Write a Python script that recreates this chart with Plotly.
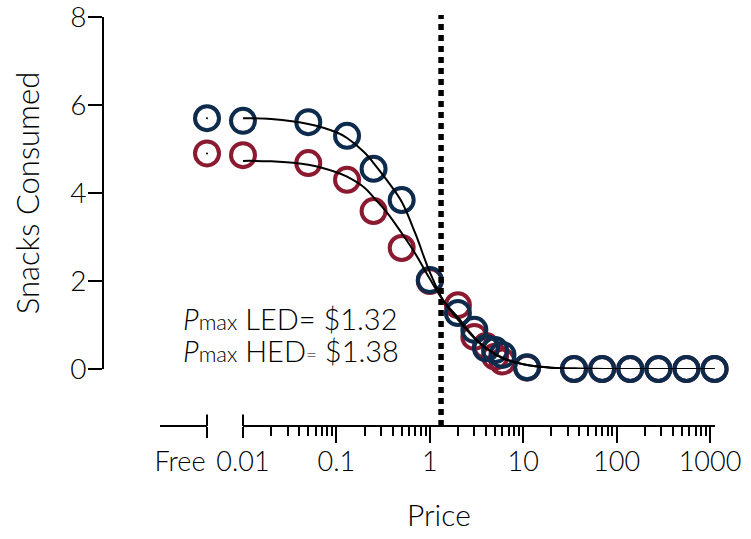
import plotly.graph_objects as go

# ---------------- data ----------------
prices = [0.01, 0.05, 0.13, 0.25, 0.5, 1, 2, 3, 4, 5, 6, 11, 35, 70, 140, 280, 560, 1120]
led_consumed = [5.64, 5.61, 5.30, 4.55, 3.84, 2.02, 1.27, 0.89, 0.47, 0.43, 0.32, 0.04, 0, 0, 0, 0, 0, 0]
hed_consumed = [4.86, 4.68, 4.30, 3.59, 2.75, 2.00, 1.45, 0.73, 0.52, 0.28, 0.17, 0.03, 0, 0, 0, 0, 0, 0]
free_label = "Free"
free_led = 5.70
free_hed = 4.90

fit_prices = [0.01, 0.02, 0.05, 0.1, 0.13, 0.2, 0.25, 0.35, 0.5, 0.7, 1, 1.4, 2, 3, 4, 6, 8, 11, 20, 35, 100, 1120]
fit_led = [5.70, 5.68, 5.57, 5.38, 5.25, 4.92, 4.68, 4.28, 3.80, 3.08, 2.20, 1.55, 1.12, 0.70, 0.47, 0.25, 0.16, 0.09, 0.03, 0.01, 0, 0]
fit_hed = [4.73, 4.72, 4.64, 4.47, 4.37, 4.12, 3.90, 3.55, 3.09, 2.62, 2.05, 1.55, 1.17, 0.72, 0.48, 0.25, 0.16, 0.09, 0.03, 0.01, 0, 0]

pmax_led = 1.32
pmax_hed = 1.38

x_tick_vals = [0.01, 0.1, 1, 10, 100, 1000]
x_tick_text = ["0.01", "0.1", "1", "10", "100", "1000"]
x_major_marks = [0.1, 1, 10, 100, 1000]
y_tick_vals = [0, 2, 4, 6, 8]

# ---------------- style ----------------
BLUE = "#0d2b4c"
RED = "#8b1a30"
FONT = "Lato"

minor_vals = [m * 10 ** e for e in range(-2, 3) for m in range(2, 10)]

fig = go.Figure()

def rings(x, y, color, xaxis):
    return go.Scatter(
        x=x, y=y, mode="markers", xaxis=xaxis, yaxis="y", cliponaxis=False,
        marker=dict(symbol="circle", size=24, color="rgba(0,0,0,0)",
                    line=dict(color=color, width=4)),
        showlegend=False, hoverinfo="skip")

fig.add_trace(rings(prices, hed_consumed, RED, "x"))
fig.add_trace(rings([0], [free_hed], RED, "x2"))
fig.add_trace(rings(prices, led_consumed, BLUE, "x"))
fig.add_trace(rings([0], [free_led], BLUE, "x2"))

for fy in (fit_led, fit_hed):
    fig.add_trace(go.Scatter(
        x=fit_prices, y=fy, mode="lines", xaxis="x", yaxis="y", cliponaxis=False,
        line=dict(color="black", width=2, shape="spline", smoothing=1),
        showlegend=False, hoverinfo="skip"))

fig.add_trace(go.Scatter(
    x=[0, 0], y=[free_led, free_hed], mode="markers", xaxis="x2", yaxis="y",
    cliponaxis=False, marker=dict(size=2, color="black"),
    showlegend=False, hoverinfo="skip"))

# plot-area edges in screen pixels (page body margin removed below)
OFF = 0
SL, SR, ST, SB = 103, 715, 17, 426
W, H = 751 - OFF, 539 - OFF
L, T = SL - OFF, ST - OFF
R = W - (SR - OFF)
B = H - (SB - OFF)
pw = SR - SL
ph = SB - ST

def px_x(p):
    return (p - SL) / pw

def px_y(p):
    return (SB - p) / ph

main_start = px_x(243)
log_lo = -2
log_hi = -2 + (SR - 243) / 93.4

axis_common = dict(showgrid=False, zeroline=False, showline=True, linecolor="black",
                   linewidth=2, ticks="outside", tickcolor="black", tickwidth=2,
                   anchor="free", position=0, automargin=False,
                   ticklabeloverflow="allow")

fig.update_layout(
    width=W, height=H,
    margin=dict(l=L, r=R, t=T, b=B, autoexpand=False),
    paper_bgcolor="white", plot_bgcolor="white",
    font=dict(family=FONT, size=26, color="black", weight=300),
    showlegend=False,
    xaxis=dict(
        type="log", domain=[main_start, 1], range=[log_lo, log_hi],
        tickmode="array", tickvals=x_tick_vals, ticktext=x_tick_text, ticklen=11,
        tickfont=dict(size=27), ticklabelstandoff=1,
        minor=dict(tickmode="array", tickvals=minor_vals, ticks="outside", ticklen=9,
                   tickwidth=2, tickcolor="black", showgrid=False),
        **axis_common),
    xaxis3=dict(
        type="log", overlaying="x", range=[log_lo, log_hi],
        tickmode="array", tickvals=x_major_marks, ticklen=16, showticklabels=False,
        showgrid=False, zeroline=False, showline=False, ticks="outside",
        tickcolor="black", tickwidth=2, anchor="free", position=0, automargin=False),
    xaxis2=dict(
        domain=[px_x(160), px_x(207)], range=[-1, 0],
        tickmode="array", tickvals=[0], ticktext=[free_label], ticklen=11,
        tickfont=dict(size=27), ticklabelstandoff=1, ticklabelshift=-27,
        **axis_common),
    yaxis=dict(
        domain=[px_y(369), 1], range=[0, 8],
        tickmode="array", tickvals=y_tick_vals, ticklen=14,
        tickfont=dict(size=28), ticklabelstandoff=-4,
        title=dict(text="Snacks Consumed", font=dict(size=31), standoff=20),
        **axis_common),
)

# invisible trace so overlay axis x3 renders
fig.add_trace(go.Scatter(x=[1], y=[None], xaxis="x3", yaxis="y", showlegend=False,
                         hoverinfo="skip"))

fig.add_shape(type="line", xref="x", x0=pmax_led, x1=pmax_led, yref="paper", y0=0, y1=1.005,
              line=dict(color="black", width=5.5, dash="6px,5px"))
for xr in ("x domain", "x2 domain"):
    xv = 0 if xr == "x domain" else 1
    fig.add_shape(type="line", xref=xr, x0=xv, x1=xv, yref="paper", ysizemode="pixel",
                  yanchor=0, y0=0, y1=11.5, line=dict(color="black", width=2))

small = "<span style='font-size:22px'>max</span>"
fig.add_annotation(xref="paper", yref="paper", x=px_x(181), y=px_y(318), xanchor="left",
                   yanchor="middle", showarrow=False, font=dict(size=29),
                   text=f"<i>P</i>{small} LED= ${pmax_led:.2f}")
fig.add_annotation(xref="paper", yref="paper", x=px_x(181), y=px_y(350), xanchor="left",
                   yanchor="middle", showarrow=False, font=dict(size=29),
                   text=f"<i>P</i>{small} HED<span style='font-size:19px'>=</span> ${pmax_hed:.2f}")
fig.add_annotation(xref="paper", yref="paper", x=px_x(438.5), y=px_y(514), xanchor="center",
                   yanchor="middle", showarrow=False, font=dict(size=30), text="Price")

fig.write_html("out.html", config={"displayModeBar": False},
               post_script="document.body.style.margin='0';")
